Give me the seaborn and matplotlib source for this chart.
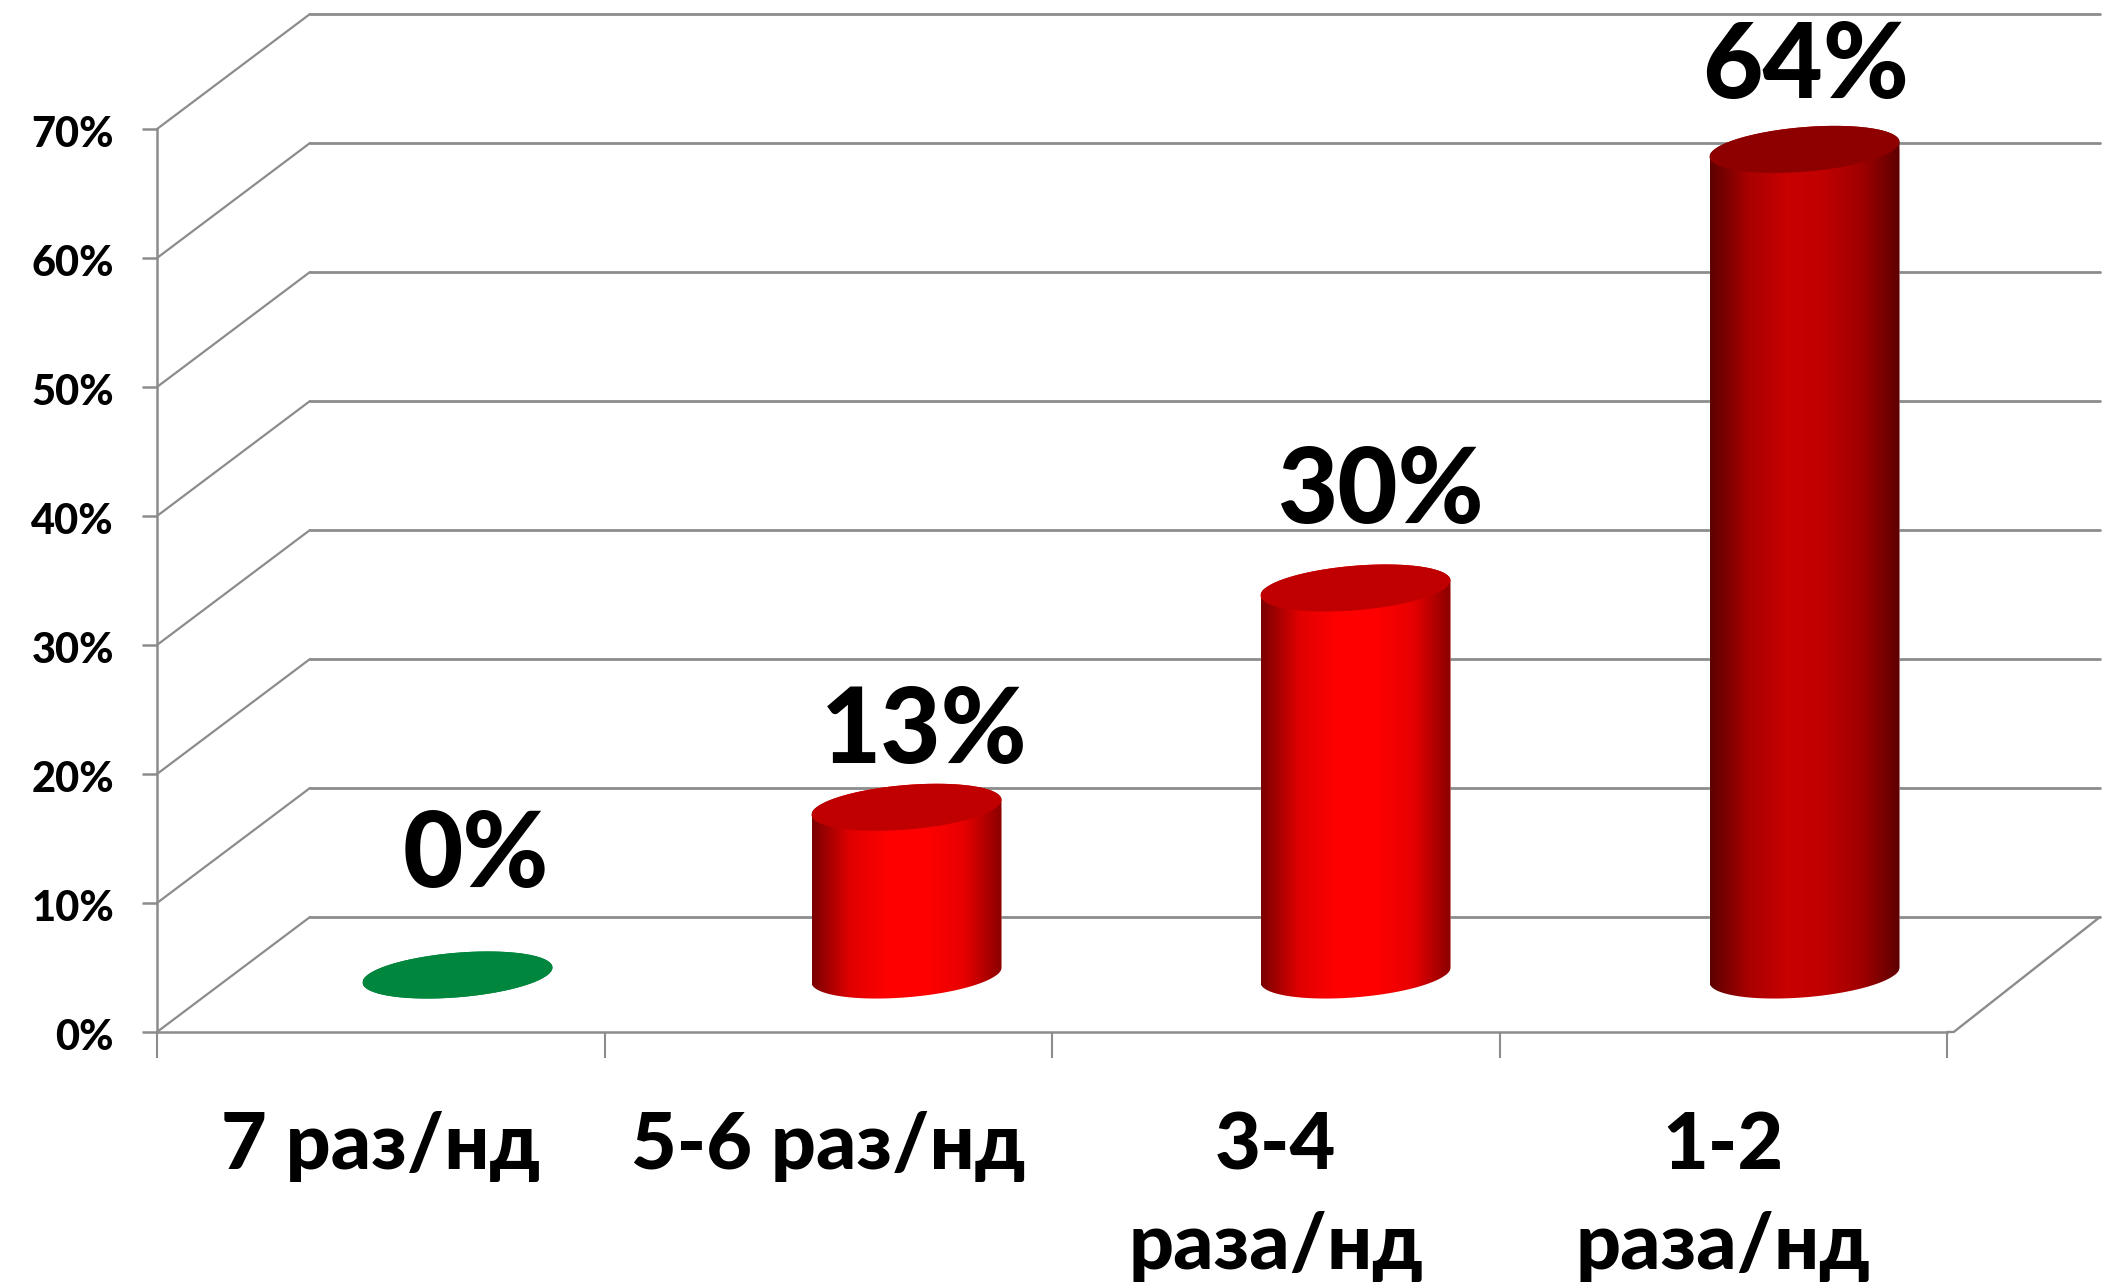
import numpy as np
import pandas as pd
import seaborn as sns
import matplotlib.pyplot as plt
from matplotlib.colors import LinearSegmentedColormap
from matplotlib.patches import ConnectionPatch, Polygon
from matplotlib.transforms import ScaledTranslation

categories = ['7 раз/нд', '5-6 раз/нд', '3-4\nраза/нд', '1-2\nраза/нд']
values = [0, 13, 30, 64]
value_labels = ['0%', '13%', '30%', '64%']
y_ticks = [0, 10, 20, 30, 40, 50, 60, 70]
y_tick_labels = ['0%', '10%', '20%', '30%', '40%', '50%', '60%', '70%']

# colours of each cylinder: side shading and lid
side_colors = [
    ['#006b31', '#00863d', '#00863d', '#006b31'],
    ['#7a0000', '#e00000', '#ff0000', '#ff0000', '#e80000', '#8a0000'],
    ['#7a0000', '#e00000', '#ff0000', '#ff0000', '#e80000', '#8a0000'],
    ['#5c0000', '#a80000', '#c80000', '#c00000', '#a00000', '#5c0000'],
]
lid_colors = ['#00863d', '#c00000', '#c00000', '#8e0000']

# label nudges in points, tuned by eye
label_dx = [13, 13, 18, 1]
label_dy = [85, 54, 69, 59]

GRID = '#8c8c8c'
W, H = 2106, 1287

sns.set_theme(style='white')
plt.rcParams['font.family'] = ['Lato', 'Noto Sans', 'DejaVu Sans']
plt.rcParams['font.weight'] = 'bold'

fig = plt.figure(figsize=(W / 100, H / 100), dpi=100, facecolor='white')


def add_plane(left, right, top, bottom, z):
    ax = fig.add_axes([left / W, 1 - bottom / H, (right - left) / W, (bottom - top) / H], zorder=z)
    ax.set_xlim(-0.5, 3.5)
    ax.set_ylim(0, 70)
    ax.patch.set_alpha(0)
    return ax


# back wall, front axis and the plane the cylinders stand in
back = add_plane(310, 2100, 14, 917, 0)
front = add_plane(157, 1947, 129, 1032, 1)
mid = add_plane(233, 2029, 72, 975, 2)

back.set_yticks(y_ticks)
back.set_xticks([])
back.tick_params(left=False, labelleft=False)
back.grid(axis='y', color=GRID, lw=2)
for line in back.get_ygridlines():
    line.set_clip_on(False)
sns.despine(ax=back, left=True, bottom=True)

front.set_yticks(y_ticks, y_tick_labels, fontsize=30, fontweight='black', color='black')
front.tick_params(axis='y', left=True, length=11, width=1.8, color=GRID, pad=20)
front.set_xticks([-0.5, 0.5, 1.5, 2.5, 3.5], [])
front.tick_params(axis='x', bottom=True, length=19, width=1.5, color=GRID)
front.set_xticks(range(4), categories, minor=True, fontsize=57, fontweight='black', color='black', linespacing=1.5)
front.tick_params(axis='x', which='minor', bottom=False, pad=53)
for lab in front.get_yticklabels():
    lab.set_transform(lab.get_transform() + ScaledTranslation(0, -2 / 72, fig.dpi_scale_trans))
sns.despine(ax=front)
for side in ['left', 'bottom']:
    front.spines[side].set_color(GRID)
    front.spines[side].set_linewidth(1.8)

# side wall and floor edges
for v in y_ticks:
    fig.add_artist(ConnectionPatch((-0.5, v), (-0.5, v), 'data', 'data', axesA=front, axesB=back,
                                   color=GRID, lw=1.6, annotation_clip=False, zorder=0.5))
floor_end = front.transData.inverted().transform(back.transData.transform((3.5, 0)))
front.plot([3.5, 3.515, floor_end[0]], [0, 0, floor_end[1]], color=GRID, lw=1.7, clip_on=False)

df = pd.DataFrame({'cat': categories, 'val': values})
sns.barplot(data=df, x='cat', y='val', color='#ff0000', width=0.423, saturation=1, ax=mid)
mid.set_xlim(-0.5, 3.5)
mid.set_ylim(0, 70)
mid.axis('off')

# lid ellipse is sheared, so its right end sits higher than its left end
TILT = 0.58
DEPTH = 1.73


def rim(center, half, level, t):
    return np.column_stack([center + half * np.cos(t), level + TILT * np.cos(t) + DEPTH * np.sin(t)])


gradient = np.linspace(0, 1, 256).reshape(1, -1)
for i, bar in enumerate(mid.patches):
    half = bar.get_width() / 2
    center = bar.get_x() + half
    top = bar.get_height()
    lower = rim(center, half, 0, np.linspace(np.pi, 2 * np.pi, 80))
    upper = rim(center, half, top, np.linspace(0, np.pi, 80))
    body = Polygon(np.vstack([lower, upper]), closed=True, transform=mid.transData, fc='none', ec='none', clip_on=False)
    mid.add_patch(body)
    bar.set_clip_path(body)
    bar.set_clip_box(fig.bbox)
    cmap = LinearSegmentedColormap.from_list(f'side{i}', side_colors[i])
    im = mid.imshow(gradient, cmap=cmap, aspect='auto', zorder=3,
                    extent=(center - half, center + half, -3, top + 3))
    im.set_clip_path(body)
    im.set_clip_box(fig.bbox)
    lid = rim(center, half, top, np.linspace(0, 2 * np.pi, 160))
    mid.add_patch(Polygon(lid, closed=True, fc=lid_colors[i], ec='none', zorder=4, clip_on=False))
    mid.annotate(value_labels[i], (center, top), xytext=(label_dx[i], label_dy[i]),
                 textcoords='offset points', ha='center', va='center',
                 fontsize=75, fontweight='black', color='black', zorder=5, annotation_clip=False)
mid.set_xlim(-0.5, 3.5)
mid.set_ylim(0, 70)

fig.savefig('out.png', dpi=100, facecolor='white')
